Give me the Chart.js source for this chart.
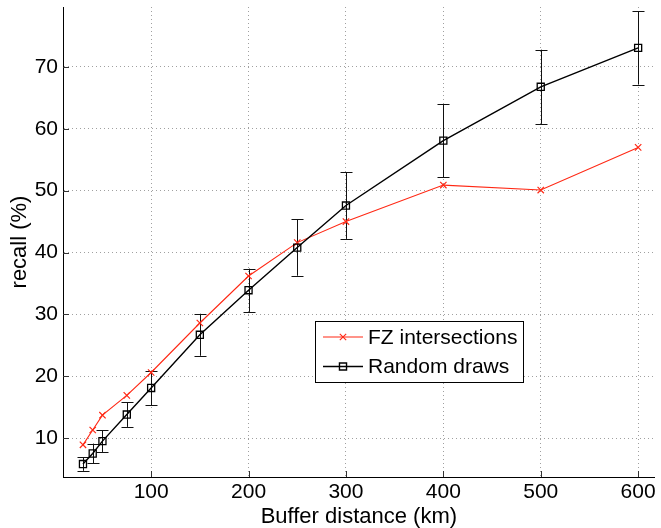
<!DOCTYPE html>
<html>
<head>
<meta charset="utf-8">
<script src="https://cdn.jsdelivr.net/npm/chart.js@4.4.0/dist/chart.umd.min.js"></script>
<style>
  body { margin: 0; background: #fff; }
  canvas { display: block; }
</style>
</head>
<body>
<canvas id="recall" width="661" height="528"></canvas>
<script>
// buffer distances (km)
const distances = [30, 40, 50, 75, 100, 150, 200, 250, 300, 400, 500, 600];
// recall (%) for the FZ intersections
const fzRecall = [8.9, 11.3, 13.7, 16.9, 20.6, 28.6, 36.2, 41.6, 45.0, 50.9, 50.1, 57.0];
// recall (%) for random draws, with the +/- error bar size
const randomRecall = [5.8, 7.5, 9.5, 13.8, 18.1, 26.7, 33.9, 40.8, 47.6, 58.1, 66.8, 73.1];
const randomErr = [1.1, 1.6, 1.75, 2.0, 2.8, 3.4, 3.5, 4.55, 5.4, 5.9, 6.0, 5.95];

const xTicks = [100, 200, 300, 400, 500, 600];
const yTicks = [10, 20, 30, 40, 50, 60, 70];

const seriesNames = ['FZ intersections', 'Random draws'];
const red = 'rgb(255, 40, 20)';
const FONT = '"Liberation Sans", Arial, Helvetica, sans-serif';

function toPoints(vals) {
    return distances.map((d, i) => ({x: d, y: vals[i]}));
}

// error bars for the random draws
const errorBars = {
    id: 'errorBars',
    beforeDatasetsDraw(chart) {
        const {ctx, scales: {x, y}} = chart;
        ctx.save();
        ctx.strokeStyle = '#111';
        ctx.lineWidth = 1;
        for (let i = 0; i < distances.length; i++) {
            const px = Math.round(x.getPixelForValue(distances[i])) + 0.5;
            const top = y.getPixelForValue(randomRecall[i] + randomErr[i]);
            const bot = y.getPixelForValue(randomRecall[i] - randomErr[i]);
            ctx.beginPath();
            ctx.moveTo(px, top);
            ctx.lineTo(px, bot);
            ctx.moveTo(px - 6, Math.round(top) + 0.5);
            ctx.lineTo(px + 6, Math.round(top) + 0.5);
            ctx.moveTo(px - 6, Math.round(bot) + 0.5);
            ctx.lineTo(px + 6, Math.round(bot) + 0.5);
            ctx.stroke();
        }
        ctx.restore();
    }
};

// matlab style inward ticks + legend box
const matlabBits = {
    id: 'matlabBits',
    afterDraw(chart) {
        const {ctx, chartArea: area, scales: {x, y}} = chart;
        ctx.save();
        ctx.strokeStyle = '#333';
        ctx.lineWidth = 1;
        ctx.beginPath();
        for (const v of xTicks) {
            const px = Math.round(x.getPixelForValue(v)) + 0.5;
            ctx.moveTo(px, area.bottom);
            ctx.lineTo(px, area.bottom - 6);
        }
        for (const v of yTicks) {
            const py = Math.round(y.getPixelForValue(v)) + 0.5;
            ctx.moveTo(area.left, py);
            ctx.lineTo(area.left + 6, py);
        }
        ctx.stroke();

        // legend
        const bx = 315.5, by = 321.5, bw = 208, bh = 61;
        ctx.fillStyle = '#fff';
        ctx.fillRect(bx, by, bw, bh);
        ctx.strokeStyle = '#000';
        ctx.strokeRect(bx, by, bw, bh);
        ctx.font = '21px ' + FONT;
        ctx.textBaseline = 'middle';
        const rows = [337, 366.5];
        chart.data.datasets.forEach((ds, i) => {
            const ly = rows[i];
            ctx.strokeStyle = ds.borderColor;
            ctx.lineWidth = ds.borderWidth;
            ctx.beginPath();
            ctx.moveTo(323, ly);
            ctx.lineTo(363, ly);
            ctx.stroke();
            ctx.fillStyle = 'rgba(0,0,0,0)';
            Chart.helpers.drawPoint(ctx, {pointStyle: ds.pointStyle, radius: ds.pointRadius, rotation: 0, borderWidth: 1}, 343, ly);
            ctx.fillStyle = '#000';
            ctx.fillText(seriesNames[i], 368, ly + 1);
        });
        ctx.restore();
    }
};

new Chart(document.getElementById('recall'), {
    type: 'line',
    data: {
        datasets: [
            {
                label: seriesNames[0],
                data: toPoints(fzRecall),
                borderColor: red,
                backgroundColor: 'rgba(0,0,0,0)',
                borderWidth: 1.1,
                pointStyle: 'crossRot',
                pointRadius: 4.5,
                pointBorderColor: red,
                pointBorderWidth: 1.2,
                tension: 0,
                order: 1
            },
            {
                label: seriesNames[1],
                data: toPoints(randomRecall),
                borderColor: '#000',
                backgroundColor: 'rgba(0,0,0,0)',
                borderWidth: 1.4,
                pointStyle: 'rect',
                pointRadius: 5,
                pointBorderColor: '#000',
                pointBorderWidth: 1.3,
                tension: 0,
                order: 0
            }
        ]
    },
    options: {
        responsive: false,
        animation: false,
        layout: {padding: {top: 7, right: 0, left: 0, bottom: 0}},
        plugins: {
            legend: {display: false},
            tooltip: {enabled: false}
        },
        scales: {
            x: {
                type: 'linear',
                min: 9.5,
                max: 617,
                afterBuildTicks: s => { s.ticks = xTicks.map(v => ({value: v})); },
                afterFit: s => { s.height = 51; s.paddingLeft = 0; s.paddingRight = 0; },
                grid: {color: '#a0a0a0', drawTicks: false, lineWidth: 1},
                border: {display: true, color: '#000', width: 1, dash: [1, 3]},
                ticks: {color: '#000', padding: 3, font: {family: FONT, size: 21}},
                title: {
                    display: true,
                    text: 'Buffer distance (km)',
                    color: '#000',
                    font: {family: FONT, size: 22, lineHeight: 1},
                    padding: {top: 0, bottom: 0}
                }
            },
            y: {
                min: 3.7,
                max: 79.7,
                afterBuildTicks: s => { s.ticks = yTicks.map(v => ({value: v})); },
                afterFit: s => { s.width = 63; s.paddingTop = 0; s.paddingBottom = 0; },
                grid: {color: '#a0a0a0', drawTicks: false, lineWidth: 1},
                border: {display: true, color: '#000', width: 1, dash: [1, 3]},
                ticks: {color: '#000', padding: 5, font: {family: FONT, size: 21}},
                title: {
                    display: true,
                    text: 'recall (%)',
                    color: '#000',
                    font: {family: FONT, size: 22, lineHeight: 1},
                    padding: {top: 9, bottom: 0}
                }
            }
        }
    },
    plugins: [errorBars, matlabBits]
});
</script>
</body>
</html>
